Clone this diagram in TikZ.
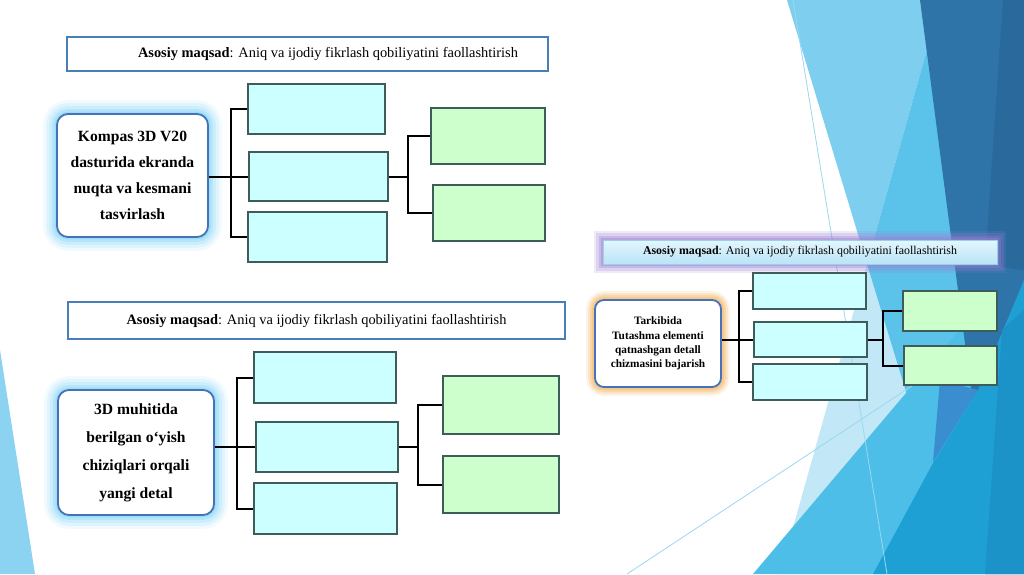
\documentclass[tikz,border=0pt]{standalone}
\usepackage{fontspec}
\setmainfont{Liberation Serif}
\usetikzlibrary{calc}
\pgfdeclarelayer{bg}
\pgfdeclarelayer{glow}
\pgfsetlayers{bg,glow,main}
\definecolor{leftc}{HTML}{8BD3F1}
\definecolor{palec}{HTML}{C2E7F6}
\definecolor{lightc}{HTML}{7ECFEF}
\definecolor{midc}{HTML}{5BC3EA}
\definecolor{darkc}{HTML}{2E74A8}
\definecolor{darkerc}{HTML}{29699C}
\definecolor{bigc}{HTML}{4DBEE7}
\definecolor{overc}{HTML}{3A8ECF}
\definecolor{medc}{HTML}{1FA0D5}
\definecolor{medc2}{HTML}{1B93C8}
\definecolor{linec}{HTML}{9AD8F0}
\definecolor{hdrblue}{HTML}{4A7EBB}
\definecolor{mainblue}{HTML}{4673B8}
\definecolor{boxedge}{HTML}{3E5C5A}
\definecolor{cyanfill}{HTML}{CCFFFF}
\definecolor{greenfill}{HTML}{CCFFCC}
\definecolor{glowblue}{HTML}{7FD3F7}
\definecolor{gloworange}{HTML}{F6B664}
\definecolor{glowpurple}{HTML}{9A80D4}
\definecolor{hdrtop}{HTML}{E4F6FD}
\definecolor{hdrbot}{HTML}{B9E4F6}
\definecolor{hdrline}{HTML}{9CCFE8}
\begin{document}
\begin{tikzpicture}[x=1pt,y=-1pt,
  hdr/.style={draw=hdrblue, line width=1.8, fill=white, inner sep=0, font=\fontsize{14.4}{17}\selectfont},
  hdrsmall/.style={draw=hdrline, line width=0.8, top color=hdrtop, bottom color=hdrbot, inner sep=0, font=\fontsize{11.9}{14}\selectfont},
  mainbox/.style={draw=mainblue, line width=1.8, fill=white, rounded corners=11, align=center, inner sep=0},
  cbox/.style={draw=boxedge, line width=1.1, fill=cyanfill, inner sep=0},
  gbox/.style={draw=boxedge, line width=1.1, fill=greenfill, inner sep=0},
  conn/.style={line width=2, black},
  bgline/.style={linec, line width=0.8}
]
\useasboundingbox (0,0) rectangle (1024,574);

\begin{pgfonlayer}{bg}
\fill[white] (0,0) rectangle (1024,574);
\fill[leftc] (0,350) -- (35,574) -- (0,574) -- cycle;
\fill[palec] (941,0) -- (1024,0) -- (1024,574) -- (780,574) -- cycle;
\fill[lightc] (787,0) -- (941,0) -- (867,264) -- cycle;
\fill[midc] (941,0) -- (1000,0) -- (980,420) -- (930,470) -- (867,264) -- cycle;
\fill[bigc] (753,574) -- (1010,270) -- (1024,262) -- (1024,574) -- cycle;
\fill[darkc] (920,0) -- (1024,0) -- (1024,285) -- (975,420) -- cycle;
\fill[darkerc] (1003,0) -- (1024,0) -- (1024,270) -- (985,265) -- cycle;
\fill[overc] (940,380) -- (978,390) -- (933,462) -- cycle;
\fill[medc] (1024,280) -- (1024,574) -- (873,574) -- (933,463) -- (978,390) -- cycle;
\fill[medc2] (1002,330) -- (1024,310) -- (1024,574) -- (985,574) -- cycle;
\draw[bgline] (793,0) -- (887,574);
\draw[bgline] (627,574) -- (930,374);
\end{pgfonlayer}

% ---------- diagram 1 ----------
\node[hdr, minimum width=481, minimum height=34] (h1) at (307.5,54)
  {\hspace*{41pt}{\bfseries Asosiy maqsad}: Aniq va ijodiy fikrlash qobiliyatini faollashtirish};
\node[mainbox, minimum width=151, minimum height=123,
  font=\fontsize{15.6}{26}\selectfont\bfseries] (m1) at (132.5,175.5)
  {Kompas 3D V20\\dasturida ekranda\\nuqta va kesmani\\tasvirlash};
\node[cbox, minimum width=137, minimum height=50] (a1) at (316.5,109) {};
\node[cbox, minimum width=139, minimum height=49] (b1) at (318.5,176.5) {};
\node[cbox, minimum width=139, minimum height=50] (c1) at (317.5,237) {};
\node[gbox, minimum width=114, minimum height=56] (d1) at (488,136) {};
\node[gbox, minimum width=112, minimum height=56] (e1) at (489,213) {};
\coordinate (j1) at ($(d1.west)+(-22,0)$);
\draw[conn] (m1.east |- b1.west) -- (b1.west);
\draw[conn] (a1.west) -- ++(-16,0) |- (c1.west);
\draw[conn] (b1.east) -- (b1.east -| j1);
\draw[conn] (d1.west) -- (j1) |- (e1.west);

% ---------- diagram 2 ----------
\node[hdr, minimum width=497, minimum height=37] (h2) at (316.5,320.5)
  {{\bfseries Asosiy maqsad}: Aniq va ijodiy fikrlash qobiliyatini faollashtirish};
\node[mainbox, minimum width=156, minimum height=125,
  font=\fontsize{15.6}{28}\selectfont\bfseries] (m2) at (136,452.5)
  {3D muhitida\\berilgan o‘yish\\chiziqlari orqali\\yangi detal};
\node[cbox, minimum width=142, minimum height=51] (a2) at (325,377.5) {};
\node[cbox, minimum width=142, minimum height=50] (b2) at (327,447) {};
\node[cbox, minimum width=143, minimum height=51] (c2) at (325.5,508.5) {};
\node[gbox, minimum width=116, minimum height=58] (d2) at (501,405) {};
\node[gbox, minimum width=116, minimum height=57] (e2) at (501,484.5) {};
\coordinate (j2) at ($(d2.west)+(-24,0)$);
\draw[conn] (m2.east |- b2.west) -- (b2.west);
\draw[conn] (a2.west) -- ++(-16,0) |- (c2.west);
\draw[conn] (b2.east) -- (b2.east -| j2);
\draw[conn] (d2.west) -- (j2) |- (e2.west);

% ---------- diagram 3 ----------
\node[hdrsmall, minimum width=394, minimum height=24] (h3) at (800,252)
  {{\bfseries Asosiy maqsad}: Aniq va ijodiy fikrlash qobiliyatini faollashtirish};
\node[mainbox, minimum width=126, minimum height=87, rounded corners=9,
  font=\fontsize{11.3}{14.3}\selectfont\bfseries] (m3) at (658,343.5)
  {\rule{0pt}{8pt}Tarkibida\\Tutashma elementi\\qatnashgan detall\\chizmasini bajarish};
\node[cbox, minimum width=113, minimum height=36] (a3) at (809.5,291) {};
\node[cbox, minimum width=113, minimum height=35] (b3) at (810.5,339.5) {};
\node[cbox, minimum width=114, minimum height=36] (c3) at (810,382) {};
\node[gbox, minimum width=94, minimum height=40] (d3) at (950,311) {};
\node[gbox, minimum width=93, minimum height=39] (e3) at (950.5,365.5) {};
\coordinate (j3) at ($(d3.west)+(-19,0)$);
\draw[conn] (m3.east |- b3.west) -- (b3.west);
\draw[conn] (a3.west) -- ++(-13,0) |- (c3.west);
\draw[conn] (b3.east) -- (b3.east -| j3);
\draw[conn] (d3.west) -- (j3) |- (e3.west);

% ---------- glows ----------
\begin{pgfonlayer}{glow}
\foreach \w/\o in {26/0.10,20/0.14,14/0.2,8/0.3,3/0.4}{
  \draw[glowblue, line width=\w, opacity=\o, rounded corners=12] (m1.north west) rectangle (m1.south east);
  \draw[glowblue, line width=\w, opacity=\o, rounded corners=12] (m2.north west) rectangle (m2.south east);
}
\foreach \w/\o in {16/0.16,12/0.22,8/0.3,4/0.42}{
  \draw[gloworange, line width=\w, opacity=\o, rounded corners=10] (m3.north west) rectangle (m3.south east);
}
\foreach \w/\o in {18/0.16,13/0.22,8/0.3,4/0.4}{
  \draw[glowpurple, line width=\w, opacity=\o] (h3.north west) rectangle (h3.south east);
}
\end{pgfonlayer}
\end{tikzpicture}
\end{document}
